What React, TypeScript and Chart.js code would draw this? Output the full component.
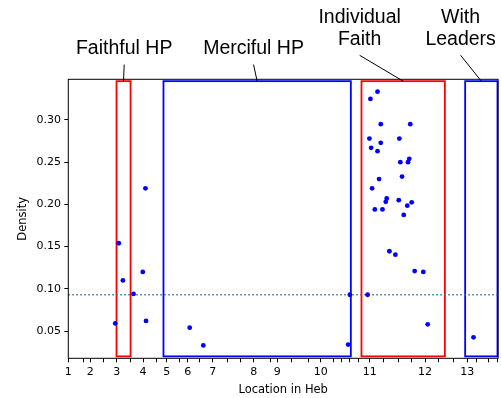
import React, { useEffect, useRef } from "react";
import { Chart, registerables } from "chart.js";

Chart.register(...registerables);

// x axis: position along Hebrews (verse-like units), labelled by chapter
const xRange = [0, 303];
const xMajorPos = [0, 15.5, 34.2, 52.7, 69.4, 84.2, 101.9, 130.8, 147.4, 177.9, 212.6, 251.5, 281.2];
const xMajorLabels = ["1", "2", "3", "4", "5", "6", "7", "8", "9", "10", "11", "12", "13"];
const xMinorPos = [10.5, 24.9, 43.6, 61.9, 78.5, 92.4, 112.5, 121.2, 142.3, 157.5, 169.2, 187.0, 192.6, 198.3, 204.4, 221.9, 232.7, 241.8, 261.3, 271.6, 287.8, 296.5, 302.6];

const yRange = [0.0177, 0.3482];
const yTicks = [0.05, 0.1, 0.15, 0.2, 0.25, 0.3];

const pointX = [54.4, 35.6, 52.5, 38.5, 46.0, 33.1, 54.8, 85.6, 95.2, 198.5, 197.3, 218.0, 213.0, 220.3, 241.1, 212.3, 220.3, 233.4, 213.5, 218.0, 234.1, 240.4, 239.5, 235.3, 219.1, 214.2, 224.5, 223.8, 233.0, 242.1, 239.0, 216.1, 221.5, 236.5, 226.4, 230.6, 244.2, 250.3, 211.0, 253.4, 285.7];
const pointY = [0.219, 0.154, 0.12, 0.11, 0.094, 0.059, 0.062, 0.054, 0.033, 0.093, 0.034, 0.3335, 0.325, 0.295, 0.295, 0.278, 0.273, 0.278, 0.267, 0.263, 0.25, 0.254, 0.25, 0.233, 0.23, 0.219, 0.207, 0.203, 0.205, 0.2025, 0.1985, 0.194, 0.194, 0.1875, 0.1445, 0.1405, 0.121, 0.12, 0.093, 0.058, 0.0425];

const meanDensity = 0.0929;

const boxStart = [34.0, 67.1, 206.7, 279.8];
const boxEnd = [43.9, 199.2, 265.5, 302.6];
const boxColors = ["#ff0000", "#0000ff", "#ff0000", "#0000ff"];
const boxBottom = 0.02;
const boxTop = 0.346;
const labelLines = [["Faithful HP"], ["Merciful HP"], ["Individual", "Faith"], ["With", "Leaders"]];
const labelX = [39.4, 130.6, 205.4, 276.6];

// label styling (pixel offsets above the plot top)
const labelRise = [30.2, 30.2, 39.5, 39.5];
const labelLineGap = 22.3;
const leaderGap = 15.5;

export default function App() {
  const ref = useRef<HTMLCanvasElement>(null);

  useEffect(() => {
    document.body.style.margin = "0";
    document.body.style.overflow = "hidden";
    const canvas = ref.current!;

    const annot = {
      id: "annot",
      beforeDatasetsDraw(chart: any) {
        const ctx = chart.ctx;
        const xs = chart.scales.x;
        const ys = chart.scales.y;
        ctx.save();
        ctx.lineWidth = 1.8;
        for (let i = 0; i < boxStart.length; i++) {
          const x0 = xs.getPixelForValue(boxStart[i]);
          const x1 = xs.getPixelForValue(boxEnd[i]);
          const y0 = ys.getPixelForValue(boxTop);
          const y1 = ys.getPixelForValue(boxBottom);
          ctx.strokeStyle = boxColors[i];
          ctx.strokeRect(x0, y0, x1 - x0, y1 - y0);
        }
        ctx.restore();
      },
      afterDraw(chart: any) {
        const ctx = chart.ctx;
        const xs = chart.scales.x;
        const ys = chart.scales.y;
        const area = chart.chartArea;
        ctx.save();
        // frame
        ctx.strokeStyle = "#000";
        ctx.lineWidth = 1;
        ctx.strokeRect(area.left, area.top, area.right - area.left, area.bottom - area.top);
        // labels
        ctx.fillStyle = "#000";
        ctx.font = "19.5px 'Liberation Sans', Arial, sans-serif";
        ctx.textAlign = "center";
        ctx.textBaseline = "middle";
        for (let i = 0; i < labelLines.length; i++) {
          const lines = labelLines[i];
          const tx = xs.getPixelForValue(labelX[i]);
          const lastY = area.top - labelRise[i];
          lines.forEach((t, j) => {
            const y = lastY - (lines.length - 1 - j) * labelLineGap;
            ctx.fillText(t, tx, y);
          });
          const bx = xs.getPixelForValue((boxStart[i] + boxEnd[i]) / 2);
          const by = ys.getPixelForValue(boxTop);
          ctx.beginPath();
          ctx.moveTo(tx, lastY + leaderGap);
          ctx.lineTo(bx, by);
          ctx.lineWidth = 1;
          ctx.strokeStyle = "#000";
          ctx.stroke();
        }
        ctx.restore();
      },
    };

    const tickFont = { family: "'DejaVu Sans', sans-serif", size: 11 };
    const titleFont = { family: "'DejaVu Sans', sans-serif", size: 11.5 };

    const chart = new Chart(canvas, {
      type: "scatter",
      data: {
        datasets: [
          {
            data: pointX.map((x, i) => ({ x, y: pointY[i] })),
            backgroundColor: "#0000ff",
            borderWidth: 0,
            pointRadius: 2.4,
            order: 0,
          },
          {
            type: "line",
            data: [
              { x: xRange[0], y: meanDensity },
              { x: xRange[1], y: meanDensity },
            ],
            borderColor: "#1f77b4",
            borderWidth: 1.5,
            borderDash: [1.5, 2.5],
            pointRadius: 0,
            fill: false,
            order: 1,
          } as any,
        ],
      },
      options: {
        responsive: false,
        animation: false,
        events: [],
        layout: { autoPadding: false, padding: { top: 79.3, right: 1.7, left: 0, bottom: 0 } },
        plugins: { legend: { display: false }, tooltip: { enabled: false } },
        scales: {
          x: {
            type: "linear",
            min: xRange[0],
            max: xRange[1],
            afterFit(scale: any) {
              scale.height = 39.7;
            },
            afterBuildTicks(scale: any) {
              const all = [...xMajorPos, ...xMinorPos].sort((a, b) => a - b);
              scale.ticks = all.map((v) => ({ value: v }));
            },
            border: { display: false },
            grid: { drawOnChartArea: false, color: "#000", tickColor: "#000", tickLength: 4, tickWidth: 1 },
            ticks: {
              autoSkip: false,
              maxRotation: 0,
              padding: 3.5,
              color: "#000",
              font: tickFont,
              callback: (v: any) => {
                const idx = xMajorPos.indexOf(Number(v));
                return idx >= 0 ? xMajorLabels[idx] : "";
              },
            },
            title: { display: true, text: "Location in Heb", color: "#000", font: titleFont, padding: { top: 0, bottom: 1.1 } },
          },
          y: {
            type: "linear",
            min: yRange[0],
            max: yRange[1],
            afterFit(scale: any) {
              scale.width = 68.3;
            },
            afterBuildTicks(scale: any) {
              scale.ticks = yTicks.map((v) => ({ value: v }));
            },
            border: { display: false },
            grid: { drawOnChartArea: false, color: "#000", tickColor: "#000", tickLength: 4, tickWidth: 1 },
            ticks: {
              padding: 3.3,
              color: "#000",
              font: tickFont,
              callback: (v: any) => Number(v).toFixed(2),
            },
            title: { display: true, text: "Density", color: "#000", font: titleFont, padding: { top: 16.1, bottom: 0 } },
          },
        },
      },
      plugins: [annot],
    } as any);

    return () => chart.destroy();
  }, []);

  return (
    <div style={{ width: 501, height: 398 }}>
      <canvas ref={ref} width={501} height={398} style={{ display: "block" }} />
    </div>
  );
}
